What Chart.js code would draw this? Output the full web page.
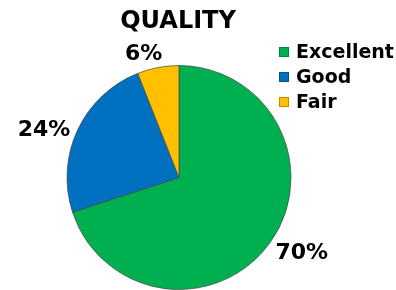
<!DOCTYPE html>
<html>
<head>
<meta charset="utf-8">
<script src="https://cdn.jsdelivr.net/npm/chart.js@4"></script>
<style>
  html, body { margin: 0; padding: 0; background: #fff; }
  #wrap { width: 396px; height: 290px; position: relative; }
</style>
</head>
<body>
<div id="wrap"><canvas id="pieChart"></canvas></div>
<script>
// data
const labels = ['Excellent', 'Good', 'Fair'];
const values = [70, 24, 6];
const colors = ['#00B050', '#0070C0', '#FFC000'];
const titleText = 'QUALITY';

const FONT = '"DejaVu Sans", sans-serif';

// percent labels outside each slice + legend on the right
const extras = {
  id: 'extras',
  afterDraw(chart) {
    const ctx = chart.ctx;
    const meta = chart.getDatasetMeta(0);
    const total = values.reduce((a, b) => a + b, 0);
    ctx.save();
    ctx.fillStyle = '#000';
    ctx.textAlign = 'center';
    ctx.textBaseline = 'middle';

    // title
    ctx.font = 'bold 24px ' + FONT;
    ctx.fillText(titleText, 178, 22);

    // slice labels (outside end)
    ctx.font = 'bold 22px ' + FONT;
    meta.data.forEach((arc, i) => {
      const p = arc.getProps(['x', 'y', 'startAngle', 'endAngle', 'outerRadius'], true);
      const mid = (p.startAngle + p.endAngle) / 2 - 0.087;
      const dx = Math.cos(mid), dy = Math.sin(mid);
      const txt = Math.round(values[i] / total * 100) + '%';
      const w = ctx.measureText(txt).width;
      const h = 18;
      const d = p.outerRadius + 4 + Math.abs(dx) * w / 2 + Math.abs(dy) * h / 2;
      ctx.fillText(txt, p.x + dx * d, p.y + dy * d + 2);
    });

    // legend
    ctx.font = 'bold 19px ' + FONT;
    ctx.textAlign = 'left';
    labels.forEach((lab, i) => {
      const y = 52 + i * 25;
      ctx.fillStyle = colors[i];
      ctx.fillRect(279, y - 5, 10, 10);
      ctx.strokeStyle = 'rgba(0,0,0,0.25)';
      ctx.lineWidth = 1;
      ctx.strokeRect(279.5, y - 4.5, 9, 9);
      ctx.fillStyle = '#000';
      ctx.fillText(lab, 296, y + 1);
    });
    ctx.restore();
  }
};

new Chart(document.getElementById('pieChart'), {
  type: 'pie',
  data: {
    labels: labels,
    datasets: [{
      data: values,
      backgroundColor: colors,
      borderColor: 'rgba(70,70,70,0.7)',
      borderWidth: 1
    }]
  },
  options: {
    responsive: true,
    maintainAspectRatio: false,
    animation: false,
    layout: { padding: { top: 65, bottom: -1, left: 60, right: 98 } },
    plugins: {
      legend: { display: false },
      tooltip: { enabled: false }
    }
  },
  plugins: [extras]
});
</script>
</body>
</html>
